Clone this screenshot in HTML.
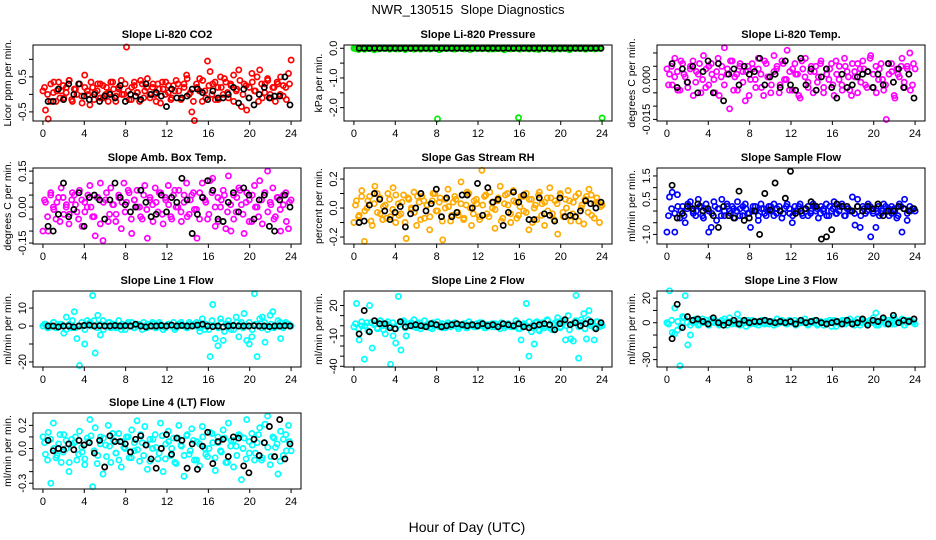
<!DOCTYPE html>
<html><head><meta charset="utf-8">
<style>
html,body{margin:0;padding:0;background:#fff;}
svg{display:block;font-family:"Liberation Sans",Arial,sans-serif;}
</style></head>
<body>
<svg id="chart" width="936" height="540" viewBox="0 0 936 540" xmlns="http://www.w3.org/2000/svg">
<rect width="936" height="540" fill="#fff"/>
<text x="468" y="14" font-size="13" text-anchor="middle" style="white-space:pre">NWR_130515  Slope Diagnostics</text>
<text x="467" y="532" font-size="14" text-anchor="middle">Hour of Day (UTC)</text>
</svg>
<script>
// x-axis ticks (hour of day)
const xTicks = [0,4,8,12,16,20,24];
const xTickLabels = ["0","4","8","12","16","20","24"];

// Panel 1: CO2
const co2Vals = [0.1,-0.45,-0.7,0.3,0.05,-0.2,0.35,0.1,-0.1,0.2,0.4,-0.15,0.15,0.0,0.3,-0.25,0.55,0.1,-0.3,0.2,0.05,0.3,-0.1,0.25,0.0,-0.2,0.35,0.15,-0.05,0.2,0.4,0.0,1.35,-0.15,0.2,0.35,0.05,-0.2,0.3,0.1,0.45,-0.1,0.2,0.0,0.3,-0.25,0.15,0.35,0.05,-0.15,0.25,0.4,0.1,-0.1,0.3,0.55,0.0,-0.5,-0.75,0.2,0.45,-0.2,0.1,0.95,0.65,0.3,-0.15,0.2,0.5,0.0,0.35,-0.1,0.25,0.55,0.1,0.7,-0.35,0.3,-0.45,0.2,0.6,0.1,0.5,0.7,-0.1,0.3,0.45,0.0,0.2,-0.2,0.3,0.5,-0.05,0.2,0.6,0.98];
const co2Vals2 = [0.2,0.0,-0.2,0.35,0.1,-0.1,0.25,0.05,0.4,-0.2,0.15,0.3,-0.05,0.2,0.0,0.35,-0.15,0.1,0.3,-0.1,0.2,0.05,0.35,-0.2,0.15,0.0,0.3,0.1,-0.15,0.25,0.05,0.4,-0.1,0.2,0.0,0.3,-0.2,0.15,0.35,0.0,0.25,-0.1,0.1,0.3,-0.15,0.2,0.45,0.05,-0.2,0.3,0.1,0.4,-0.1,0.25,0.0,0.35,-0.15,0.2,0.45,0.05,0.3,-0.2,0.15,0.4,0.0,0.25,-0.1,0.35,0.1,-0.2,0.3,0.05,0.4,-0.1,0.2,0.35,0.0,0.25,-0.15,0.3];
const co2Black = [-0.2,-0.2,0.15,-0.15,0.3,0.0,0.3,-0.05,-0.15,0.0,-0.2,-0.05,0.0,-0.1,0.25,-0.2,0.0,-0.05,-0.15,0.3,0.0,0.05,-0.05,-0.35,0.15,-0.1,-0.1,-0.05,0.15,0.15,0.05,-0.15,0.1,-0.1,-0.1,0.0,0.2,-0.25,0.15,-0.1,-0.3,0.0,0.2,-0.1,-0.05,-0.05,0.5,-0.3];
const co2Ticks = [-0.5,0,0.5,1.0];
const co2TickLabels = ["-0.5","","0.5",""];

// Panel 2: Pressure
const presVals = [0,-0.02,0,0,-0.03,0,-0.01,0,0,-0.02,0,0,0,-0.01,0,0,-0.02,0,0,0,-0.01,0,0,-0.03,0,0,-0.01,0,0,-0.02,0,0,-2.38,0,0,-0.01,0,0,-0.02,0,0,0,-0.01,0,0,-0.02,0,0,0,-0.01,0,0,0,-0.02,0,0,-0.01,0,0,0,-0.02,0,0,-2.34,0,0,-0.01,0,0,-0.02,0,0,0,-0.01,0,0,-0.03,0,0,-0.01,0,0,-0.02,0,0,0,-0.01,0,0,-0.02,0,0,0,-0.01,0,-2.35];
const presVals2 = [0,-0.04,0,-0.02,0,0,-0.05,0,-0.01,0,0,-0.03,0,0,-0.02,0,-0.04,0,0,-0.01,0,-0.03,0,0,-0.02,0,0,-0.05,0,-0.01,0,0,-0.03,0,0,-0.02,0,-0.04,0,0,-0.01,0,0,-0.03,0,-0.02,0,0,-0.05,0,0,-0.01,0,-0.03,0,0,-0.02,0,0,-0.04,0,-0.01,0,0,-0.03,0,-0.02,0,0,-0.05,0,0,-0.01,0,-0.03,0,0,-0.02,0,0];
const presBlack = [0,0,0,0,0,0,0,0,0,0,0,0,0,0,0,0,0,0,0,0,0,0,0,0,0,0,0,0,0,0,0,0,0,0,0,0,0,0,0,0,0,0,0,0,0,0,0,0];
const presTicks = [0,-0.5,-1.0,-1.5,-2.0];
const presTickLabels = ["0.0","","-1.0","","-2.0"];

// Panel 3: Li-820 Temp
const ltVals = [.004,.002,-.002,.008,.003,-.004,.006,.001,-.003,.005,.007,-.001,.002,-.005,.009,.004,-.002,.006,.000,.003,-.006,.005,.012,.002,-.011,.007,.001,-.004,.006,.003,-.008,.005,.000,.004,-.003,.008,.002,-.006,.006,.001,-.002,.009,.004,-.005,.007,.000,.011,.003,-.004,.006,.002,-.007,.004,.008,-.001,.003,-.005,.005,.001,.007,-.003,.004,.000,.006,-.006,.002,.005,-.002,.008,.003,-.004,.006,.001,-.005,.004,.007,-.002,.003,.009,-.003,.005,.000,.006,-.004,-.015,.002,.006,-.006,.004,.001,.008,-.003,.005,.010,-.002,.004];
const ltVals2 = [-.002,.005,.001,-.004,.007,.002,-.001,.004,-.006,.003,.006,.000,-.003,.005,.002,-.005,.008,.001,-.002,.004,.007,-.004,.002,.005,-.001,.003,-.006,.006,.000,.004,-.003,.007,.001,-.005,.003,.005,-.002,.006,.000,-.004,.004,.002,-.006,.007,.001,-.003,.005,.003,-.001,.006,-.005,.002,.004,-.002,.007,.000,-.004,.005,.001,-.006,.003,.006,-.001,.004,-.003,.008,.002,-.005,.004,.000,-.002,.006,.003,-.007,.002,.005,-.001,.004,-.004,.006];
const ltBlack = [.006,-.003,.004,-.001,.005,-.005,.003,.007,-.005,.006,-.008,.002,.004,-.002,.005,.002,.003,.008,-.002,.001,.002,-.003,.007,-.002,-.004,.008,-.002,.004,-.004,.001,.004,-.003,-.007,.002,-.003,-.002,.001,.002,.003,-.003,.002,-.002,.006,-.001,.004,-.003,.002,-.007];
const ltTicks = [0.010,0.005,0,-0.005,-0.010,-0.015];
const ltTickLabels = ["","","0.000","","","-0.015"];

// Panel 4: Amb Box Temp
const abVals = [-.10,.02,-.10,.06,.00,-.05,.04,.08,-.03,.01,-.07,.03,.05,-.02,.07,-.08,.02,.00,.09,-.04,-.12,.04,.10,-.14,.03,-.06,.08,.01,-.03,.05,-.09,.10,.02,.06,-.11,.03,.07,.00,-.05,.09,-.13,.04,.01,.08,-.02,.06,-.07,.03,.09,-.04,.05,.00,.07,-.06,.02,.10,-.03,.05,-.01,-.13,.06,.10,.03,-.05,.11,.12,-.08,.04,.00,.07,-.09,.13,-.10,.05,-.02,.08,.01,-.11,.06,.03,-.06,.09,.00,.11,-.07,.06,.15,.02,.08,-.04,.04,-.10,.01,.06,-.09,.03];
const abVals2 = [.03,-.04,.05,-.01,.02,-.06,.04,.00,-.03,.06,.01,-.05,.03,-.02,.05,.00,-.04,.04,-.07,.02,.06,-.03,.01,-.06,.04,.02,-.02,.07,-.05,.03,.00,-.04,.05,-.01,.03,-.06,.02,.06,-.03,.04,.01,-.05,.07,.00,-.02,.05,-.04,.03,.06,-.01,-.05,.04,.02,-.03,.06,.00,-.06,.03,.05,-.02,.01,-.05,.04,.07,-.03,.02,-.06,.05,.00,-.04,.03,.06,-.02,.01,-.05,.04,-.01,.05,-.06,.02];
const abBlack = [-.08,-.10,-.03,.10,-.04,-.01,.06,-.08,.04,.05,.03,-.05,.03,.10,.04,.01,-.02,.00,.07,.02,-.04,-.03,.05,-.02,.04,.02,.12,.03,-.11,-.03,.04,.11,.07,-.05,-.06,.02,.06,-.02,.08,.05,-.05,.03,.05,-.08,-.10,.03,.05,.00];
const abTicks = [0.15,0.10,0.05,0,-0.05,-0.10,-0.15];
const abTickLabels = ["0.15","","","0.00","","","-0.15"];

// Panel 5: Gas Stream RH
const rhVals = [-.10,.05,-.05,.12,-.23,.00,.08,-.12,.15,-.03,.07,-.08,.02,.10,-.06,.14,-.10,.03,-.04,.09,-.21,.06,-.01,.11,-.12,.04,.08,-.07,.02,-.15,.05,.10,-.02,.07,-.22,.00,.13,-.09,.04,.06,-.05,.18,-.08,.02,.10,-.12,.05,.03,-.06,.26,.08,-.04,.11,.00,-.14,.05,.15,-.07,.09,.02,-.10,.12,.04,-.05,.08,-.02,.10,-.15,.06,.00,-.08,.11,.03,-.12,.07,.14,-.04,.05,-.18,.09,-.03,.06,.12,-.09,.04,-.06,.10,.00,-.11,.08,.13,-.05,.03,.07,-.10,.02];
const rhVals2 = [.02,-.06,.08,-.02,.05,-.09,.03,.10,-.04,.01,-.07,.06,-.01,.09,-.05,.04,-.10,.07,.00,-.03,.08,-.08,.05,.02,-.06,.10,-.02,.04,-.09,.06,.01,-.05,.08,-.03,.03,-.07,.11,.00,-.04,.06,-.08,.02,.09,-.06,.04,-.01,.07,-.09,.03,.10,-.04,.05,-.07,.01,.08,-.03,.06,-.10,.02,.09,-.05,.04,-.02,.07,-.08,.03,.10,-.06,.00,.05,-.04,.08,-.09,.02,.06,-.03,.09,-.07,.04,.01];
const rhBlack = [-.10,-.09,.02,.10,.06,-.02,-.08,-.03,.01,-.13,-.04,.00,.10,-.02,.03,.13,-.06,.07,-.06,-.03,.09,.09,.00,.17,-.05,.14,.04,.06,-.12,-.03,.11,.04,.09,-.08,-.08,.07,-.04,-.05,-.09,.07,-.06,-.05,-.06,-.02,.05,.03,.00,.04];
const rhTicks = [0.2,0.1,0,-0.1,-0.2];
const rhTickLabels = ["0.2","","0.0","","-0.2"];

// Panel 6: Sample Flow
const sfVals = [-0.9,0.6,0.8,-0.9,0.7,-0.3,0.2,-0.5,0.3,0.4,0.0,-0.2,0.5,0.2,-0.3,0.3,-0.9,-0.7,0.4,-0.4,0.1,0.5,-0.2,0.3,0.0,0.2,-0.3,0.4,0.1,-0.2,0.3,-0.1,-0.7,0.2,0.0,-0.4,0.3,0.1,-0.2,0.2,0.0,0.3,-0.1,0.2,-0.3,0.1,0.3,-0.1,-0.5,0.2,0.0,0.3,-0.2,0.1,0.2,-0.1,0.3,0.0,-0.3,0.2,0.1,0.3,-0.2,0.0,0.4,-0.1,0.2,0.3,-0.2,0.1,0.0,0.6,-0.6,0.5,-0.7,0.2,-0.1,0.3,-1.1,0.0,-0.7,0.2,-0.1,0.3,0.0,-0.2,0.2,0.1,-0.3,0.3,-0.9,0.5,-0.4,0.2,0.1,0.0];
const sfVals2 = [-0.2,0.1,-0.1,0.2,0.0,-0.2,0.1,0.2,-0.1,0.0,0.2,-0.2,0.1,0.0,-0.1,0.2,0.1,-0.2,0.0,0.2,-0.1,0.1,0.0,-0.2,0.2,0.1,-0.1,0.0,0.2,-0.2,0.1,-0.1,0.0,0.2,-0.2,0.1,0.0,-0.1,0.2,0.1,-0.2,0.0,0.2,-0.1,0.1,-0.2,0.0,0.2,0.1,-0.1,0.0,-0.2,0.2,0.1,-0.1,0.0,0.2,-0.2,0.1,0.0,-0.1,0.2,-0.2,0.1,0.0,0.2,-0.1,0.1,-0.2,0.0,0.2,0.1,-0.1,0.0,-0.2,0.2,0.1,-0.1,0.0,0.1];
const sfBlack = [1.1,-0.3,-0.1,0.2,0.1,0.3,0.0,0.1,-0.2,-0.7,0.2,-0.2,-0.3,0.85,-0.4,-0.3,0.0,-1.0,0.75,0.05,1.2,0.0,0.55,1.7,-0.1,0.0,0.1,0.4,0.2,-1.2,-1.1,-0.8,0.3,0.2,0.2,0.0,0.2,0.0,0.2,0.1,0.3,-0.2,0.0,0.0,0.2,0.1,0.0,0.1];
const sfTicks = [1.5,1.0,0.5,0,-0.5,-1.0];
const sfTickLabels = ["1.5","","0.5","","","-1.0"];

// Panel 7: Line 1 Flow
const l1Vals = [0,1,-1,0,2,-1,0,1,-4,5,0,-1,8,-7,-22,0,-10,3,2,17,-15,6,-5,3,0,2,-1,1,0,3,-2,0,1,0,2,-1,0,1,-2,0,1,0,2,-1,0,1,-2,0,1,0,2,-1,0,1,0,-1,2,0,1,0,-3,4,-2,0,-17,12,-7,-11,4,-8,1,3,-2,0,5,-6,2,7,-8,-10,-6,18,-17,4,5,-9,-2,6,8,0,3,-7,0,2,1,0];
const l1Vals2 = [1,-1,0,2,-1,1,0,-2,1,3,-1,0,2,-2,1,0,3,-1,1,-2,0,2,1,-1,0,1,-2,2,0,-1,1,0,2,-1,0,1,-1,2,0,-1,1,0,-2,1,2,0,-1,1,0,2,-1,0,1,-2,3,0,-1,2,-3,1,0,-2,2,1,-1,0,2,-2,1,0,-1,2,0,1,-1,0,2,-1,1,0];
const l1Black = [0,0,-0.5,0,0,-0.5,0,0.3,0.5,0,0.2,0,0,0.3,0,0.2,0,1,0,-0.5,0,0,0.3,0,0.5,0,0.3,0,0,0.5,1,0,-0.3,0,-0.5,0,0.3,0,0,0,0.2,0,0,-0.3,0,0,0.2,0];
const l1Ticks = [10,0,-10,-20];
const l1TickLabels = ["10","0","","-20"];

// Panel 8: Line 2 Flow
const l2Vals = [-1,22,-14,0,-33,3,20,-22,2,-3,5,0,-8,4,-38,-10,-17,29,-24,5,-10,2,0,6,-2,3,0,5,-1,2,-3,0,4,1,-2,0,3,-1,0,2,-3,1,0,-2,4,0,-1,2,0,3,-2,1,0,-1,2,0,-3,1,0,2,-1,0,5,-3,-14,2,22,-30,-6,-18,4,-5,3,-2,6,0,-4,3,8,-1,5,-14,10,-13,-15,30,-32,6,12,-13,15,2,-14,4,-1,0];
const l2Vals2 = [2,-3,4,0,-5,3,1,-2,5,-4,2,0,3,-3,1,4,-2,0,3,-1,2,-3,0,1,-2,3,0,-1,2,-2,1,0,3,-1,0,2,-2,1,0,-1,3,0,-2,1,2,-1,0,3,-2,1,0,-1,2,-3,1,0,4,-2,3,-4,2,0,5,-3,1,4,-2,3,0,-4,2,5,-1,3,-3,6,0,-2,4,1];
const l2Black = [-8,15,-6,5,2,2,-2,-3,4,-1,0,1,0,-1,2,1,-1,0,1,2,1,0,1,0,2,0,1,-1,2,1,0,2,-1,-2,0,1,2,1,-4,2,6,1,3,0,2,4,-3,3];
const l2Ticks = [20,10,0,-10,-20,-30,-40];
const l2TickLabels = ["20","","","-10","","","-40"];

// Panel 9: Line 3 Flow
const l3Vals = [0,26,-8,12,-6,-35,5,22,-18,-10,0,3,-2,1,0,2,-1,3,0,1,-2,2,0,1,4,-1,0,7,-2,1,0,2,-1,0,1,-2,1,0,2,-1,0,1,-1,0,2,0,-1,1,0,2,-1,0,1,0,-2,1,0,2,-1,0,-2,1,0,-3,2,0,1,-1,2,0,3,-1,1,0,-2,2,1,-1,0,4,8,-2,1,3,0,2,-1,4,1,0,3,-2,0,2,1,-1];
const l3Vals2 = [-1,2,-9,1,-3,4,0,-2,2,1,-1,3,0,-2,1,2,-1,0,3,-2,1,0,-1,2,0,-3,1,2,-1,0,2,-1,1,0,-2,3,0,1,-1,2,0,-2,1,0,3,-1,0,2,-2,1,0,-1,2,1,-3,0,2,-1,1,0,-2,3,0,1,-1,2,0,-2,1,3,-1,0,2,-1,1,0,-2,2,1,0];
const l3Black = [-13,15,-4,5,2,3,1,-1,4,0,-2,0,2,-1,2,0,1,1,2,1,0,1,0,1,-1,2,0,1,2,0,-1,0,1,-1,2,-1,0,3,-2,2,1,4,-1,6,0,2,1,3];
const l3Ticks = [20,10,0,-10,-20,-30];
const l3TickLabels = ["20","","0","","","-30"];

// Panel 10: Line 4 (LT) Flow
const l4Vals = [.10,-.05,.14,-.30,.22,-.08,.04,-.12,.12,.00,-.20,.08,.05,-.10,.15,-.03,-.14,.09,.25,-.33,.18,-.06,.10,-.22,.03,.20,-.12,.07,-.04,.13,-.16,.01,.10,-.08,.16,-.02,.24,-.11,.05,.19,-.18,.08,.00,.12,-.09,.22,-.20,.04,.15,-.06,.09,-.13,.20,.02,-.24,.11,-.05,.17,-.10,.06,-.15,.19,.00,-.07,.14,.05,-.19,.10,-.02,.16,-.12,.22,.07,-.16,.02,.12,-.27,.09,.25,-.04,.13,-.10,.05,.18,-.08,.21,.28,-.14,.10,.01,-.22,.15,-.06,.12,.20,-.02];
const l4Vals2 = [.05,-.10,.08,.00,-.06,.12,-.03,.07,-.12,.03,.10,-.05,.01,-.09,.06,.11,-.02,-.13,.04,.09,-.07,.02,.13,-.04,-.10,.06,.00,.10,-.08,.05,-.01,.12,-.06,.03,-.11,.08,.01,-.04,.11,-.09,.06,.00,-.12,.09,.03,-.06,.12,-.02,.07,-.10,.04,.10,-.05,.00,.13,-.08,.05,-.03,.09,-.12,.02,.07,-.06,.11,.00,-.09,.06,.03,-.04,.12,-.10,.05,.01,-.07,.09,.04,-.11,.08,-.02,.06];
const l4Black = [.07,-.02,.00,-.01,.04,-.01,.07,.03,.05,-.04,.07,-.16,.11,.06,.06,.04,-.03,.08,.11,.03,-.09,-.17,.00,.12,-.05,.09,.07,-.17,.04,-.18,.02,.14,-.13,.06,.08,-.07,.10,.09,-.15,-.21,.08,-.06,.05,.19,-.07,.25,-.09,.04];
const l4Ticks = [0.2,0.1,0,-0.1,-0.2,-0.3];
const l4TickLabels = ["0.2","","0.0","","","-0.3"];

const panels = [
 {name:"co2",title:"Slope Li-820 CO2",ylab:"Licor ppm per min.",col:0,row:0,color:"#ff0000",ymin:-0.76,ymax:1.41,vals:co2Vals,vals2:co2Vals2,black:co2Black,ticks:co2Ticks,labels:co2TickLabels},
 {name:"pressure",title:"Slope Li-820 Pressure",ylab:"kPa per min.",col:1,row:0,color:"#00ee00",ymin:-2.45,ymax:0.11,vals:presVals,vals2:presVals2,black:presBlack,ticks:presTicks,labels:presTickLabels},
 {name:"li820-temp",title:"Slope Li-820 Temp.",ylab:"degrees C per min.",col:2,row:0,color:"#ff00ff",ymin:-0.0156,ymax:0.013,vals:ltVals,vals2:ltVals2,black:ltBlack,ticks:ltTicks,labels:ltTickLabels},
 {name:"amb-box-temp",title:"Slope Amb. Box Temp.",ylab:"degrees C per min.",col:0,row:1,color:"#ff00ff",ymin:-0.154,ymax:0.163,vals:abVals,vals2:abVals2,black:abBlack,ticks:abTicks,labels:abTickLabels},
 {name:"gas-stream-rh",title:"Slope Gas Stream RH",ylab:"percent per min.",col:1,row:1,color:"#ffaa00",ymin:-0.248,ymax:0.276,vals:rhVals,vals2:rhVals2,black:rhBlack,ticks:rhTicks,labels:rhTickLabels},
 {name:"sample-flow",title:"Slope Sample Flow",ylab:"ml/min per min.",col:2,row:1,color:"#0000ff",ymin:-1.41,ymax:1.84,vals:sfVals,vals2:sfVals2,black:sfBlack,ticks:sfTicks,labels:sfTickLabels},
 {name:"line1-flow",title:"Slope Line 1 Flow",ylab:"ml/min per min.",col:0,row:2,color:"#00ffff",ymin:-22.8,ymax:19.5,vals:l1Vals,vals2:l1Vals2,black:l1Black,ticks:l1Ticks,labels:l1TickLabels},
 {name:"line2-flow",title:"Slope Line 2 Flow",ylab:"ml/min per min.",col:1,row:2,color:"#00ffff",ymin:-40.7,ymax:34.3,vals:l2Vals,vals2:l2Vals2,black:l2Black,ticks:l2Ticks,labels:l2TickLabels},
 {name:"line3-flow",title:"Slope Line 3 Flow",ylab:"ml/min per min.",col:2,row:2,color:"#00ffff",ymin:-36,ymax:25.8,vals:l3Vals,vals2:l3Vals2,black:l3Black,ticks:l3Ticks,labels:l3TickLabels},
 {name:"line4-flow",title:"Slope Line 4 (LT) Flow",ylab:"ml/min per min.",col:0,row:3,color:"#00ffff",ymin:-0.35,ymax:0.307,vals:l4Vals,vals2:l4Vals2,black:l4Black,ticks:l4Ticks,labels:l4TickLabels}
];

const NS = "http://www.w3.org/2000/svg";
const svg = document.getElementById("chart");
const colLeft = [33,344,657], rowTop = [45,168,291,413];
const PW = 268, PH = 76, XMIN = -0.96, XMAX = 24.96;

function mk(tag, attrs, parent){
  const e = document.createElementNS(NS, tag);
  for (const k in attrs) e.setAttribute(k, attrs[k]);
  parent.appendChild(e);
  return e;
}

panels.forEach(p => {
  const L = colLeft[p.col], T = rowTop[p.row];
  const xs = h => L + (h - XMIN) / (XMAX - XMIN) * PW;
  const ys = v => T + (p.ymax - v) / (p.ymax - p.ymin) * PH;
  const g = mk("g", {}, svg);
  
  

  const t = mk("text", {x: L + PW/2, y: T - 7, "font-size": 11, "font-weight": "bold", "text-anchor": "middle"}, g);
  t.textContent = p.title;
  
  

  const yl = mk("text", {x: 0, y: 0, "font-size": 10.5, "text-anchor": "middle", transform: "translate(" + (L - 22) + "," + (T + PH/2) + ") rotate(-90)"}, g);
  yl.textContent = p.ylab;
  
  

  const pts = mk("g", {fill: "none", "stroke-width": 1.7}, g);
  
  
  const n2 = p.vals2.length;
  p.vals2.forEach((v, i) => {
    const c = mk("circle", {cx: xs(0.15 + i * 23.7 / (n2 - 1)).toFixed(1), cy: ys(v).toFixed(1), r: 2.6, stroke: p.color}, pts);
    
    
  });
  const n = p.vals.length;
  p.vals.forEach((v, i) => {
    const c = mk("circle", {cx: xs(i * 24 / (n - 1)).toFixed(1), cy: ys(v).toFixed(1), r: 2.6, stroke: p.color}, pts);
    
    
  });
  const bg = mk("g", {fill: "none", "stroke-width": 1.7, stroke: "#000"}, g);
  
  
  const m = p.black.length;
  p.black.forEach((v, i) => {
    const c = mk("circle", {cx: xs(0.5 + i * 23.4 / (m - 1)).toFixed(1), cy: ys(v).toFixed(1), r: 2.6}, bg);
    
    
  });

  const box = mk("rect", {x: L, y: T, width: PW, height: PH, fill: "none", stroke: "#000", "stroke-width": 1}, g);
  
  

  const xa = mk("g", {}, g);
  
  
  xTicks.forEach((h, i) => {
    const x = xs(h);
    mk("line", {x1: x, x2: x, y1: T + PH, y2: T + PH + 4, stroke: "#000"}, xa);
    const tl = mk("text", {x: x, y: T + PH + 16, "font-size": 11, "text-anchor": "middle"}, xa);
    tl.textContent = xTickLabels[i];
    
    
  });
  const ya = mk("g", {}, g);
  
  
  p.ticks.forEach((v, i) => {
    const y = ys(v);
    mk("line", {x1: L - 4, x2: L, y1: y, y2: y, stroke: "#000"}, ya);
    if (p.labels[i]) {
      const tl = mk("text", {x: 0, y: 0, "font-size": 11, "text-anchor": "middle", transform: "translate(" + (L - 7) + "," + y + ") rotate(-90)"}, ya);
      tl.textContent = p.labels[i];
      
      
    }
  });
});
</script>
</body></html>
